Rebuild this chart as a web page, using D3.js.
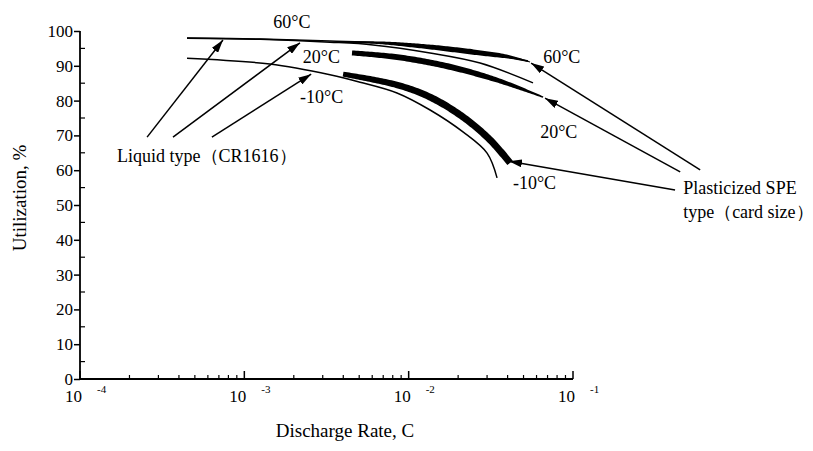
<!DOCTYPE html>
<html>
<head>
<meta charset="utf-8">
<script src="https://cdn.jsdelivr.net/npm/d3@7"></script>
<style>
body { margin: 0; background: #fff; }
svg { display: block; font-family: "Liberation Serif", "Times New Roman", serif; }
</style>
</head>
<body>
<svg width="813" height="451"></svg>
<script>
// discharge rate (C) vs utilization (%)
const liquid60 = [[4.48e-4, 98.0], [1.25e-3, 97.7], [3.32e-3, 97.1], [8.87e-3, 96.3], [1.79e-2, 95.1], [3.13e-2, 93.4], [5.33e-2, 91.4]];
const liquid20 = [[4.48e-4, 97.9], [1.25e-3, 97.6], [3.32e-3, 96.8], [6.07e-3, 96.0], [1.35e-2, 93.7], [2.72e-2, 90.8], [5.71e-2, 85.1]];
const liquidM10 = [[4.48e-4, 92.2], [1.43e-3, 90.5], [3.32e-3, 87.4], [5.06e-3, 85.3], [8.49e-3, 82.2], [1.35e-2, 77.3], [2.14e-2, 71.0], [3.00e-2, 64.9], [3.45e-2, 57.8]];
const spe60 = [[4.10e-3, 96.8], [6.70e-3, 96.6], [1.35e-2, 95.4], [2.72e-2, 93.7], [4.14e-2, 92.5], [5.48e-2, 91.1]];
const spe20 = [[4.52e-3, 93.7], [8.49e-3, 92.5], [1.71e-2, 89.9], [3.45e-2, 85.9], [6.58e-2, 81.0]];
const speM10 = [[3.99e-3, 87.6], [8.49e-3, 84.5], [1.35e-2, 81.0], [2.14e-2, 75.3], [3.13e-2, 68.7], [4.14e-2, 62.1]];

const xDecades = [1e-4, 1e-3, 1e-2, 1e-1];
const xExponents = ["-4", "-3", "-2", "-1"];
const yTicks = d3.range(0, 101, 10);

// annotation labels [rate, utilization, text]
const tempLabels = [
    [1.50e-3, 100.9, "60°C"], [2.27e-3, 90.8, "20°C"], [2.18e-3, 79.3, "-10°C"],
    [6.58e-2, 90.8, "60°C"], [6.31e-2, 69.3, "20°C"], [4.31e-2, 54.6, "-10°C"]
];
const groupLabels = [
    [1.68e-4, 62.4, "Liquid type（CR1616）"],
    [0.468, 53.2, "Plasticized SPE"],
    [0.468, 46.3, "type（card size）"]
];
// arrows [fromRate, fromUtil, toRate, toUtil]
const arrows = [
    [2.56e-4, 69.5, 7.41e-4, 97.4],
    [3.68e-4, 69.5, 2.18e-3, 96.6],
    [6.35e-4, 69.5, 2.55e-3, 87.6],
    [0.594, 60.1, 5.56e-2, 90.8],
    [0.449, 59.5, 6.76e-2, 80.7],
    [0.418, 54.3, 4.08e-2, 62.6]
];

const svg = d3.select("svg");
const x = d3.scaleLog().domain([1e-4, 1e-1]).range([80, 573]);
const y = d3.scaleLinear().domain([0, 100]).range([379, 31]);

svg.append("defs").append("marker")
    .attr("id", "ah")
    .attr("viewBox", "0 0 13 8")
    .attr("refX", 13).attr("refY", 4)
    .attr("markerWidth", 13).attr("markerHeight", 8)
    .attr("markerUnits", "userSpaceOnUse")
    .attr("orient", "auto")
  .append("path")
    .attr("d", "M0,0L13,4L0,8Z")
    .attr("fill", "#000");

// axes
svg.append("path")
    .attr("d", `M${x(1e-4)},${y(100)}V${y(0)}H${x(1e-1)}`)
    .attr("fill", "none").attr("stroke", "#000").attr("stroke-width", 1.8);

const yAxis = svg.append("g")
    .attr("transform", `translate(${x(1e-4)},0)`)
    .call(d3.axisLeft(y).tickValues(yTicks).tickSize(6).tickPadding(1));
yAxis.select(".domain").remove();
yAxis.selectAll("line").attr("stroke-width", 1.5);
yAxis.selectAll("text").attr("font-size", 17).attr("font-family", "Liberation Serif");

svg.append("g").selectAll("line")
    .data(d3.range(5, 100, 10))
    .join("line")
    .attr("x1", x(1e-4)).attr("x2", x(1e-4) + 5)
    .attr("y1", d => y(d)).attr("y2", d => y(d))
    .attr("stroke", "#000").attr("stroke-width", 1.2);

const minorX = [];
xDecades.slice(0, 3).forEach(d => d3.range(2, 10).forEach(m => minorX.push(d * m)));
svg.append("g").selectAll("line")
    .data(minorX)
    .join("line")
    .attr("x1", d => x(d)).attr("x2", d => x(d))
    .attr("y1", y(0)).attr("y2", y(0) - 4)
    .attr("stroke", "#000").attr("stroke-width", 1.2);
svg.append("g").selectAll("line")
    .data(xDecades)
    .join("line")
    .attr("x1", d => x(d)).attr("x2", d => x(d))
    .attr("y1", y(0)).attr("y2", y(0) - 8)
    .attr("stroke", "#000").attr("stroke-width", 1.5);

const xl = svg.append("g").selectAll("g").data(xDecades).join("g");
xl.append("text")
    .attr("x", d => x(d) + 2).attr("y", 402)
    .attr("text-anchor", "end").attr("font-size", 17)
    .text("10");
xl.append("text")
    .attr("x", d => x(d) + 17).attr("y", 393)
    .attr("font-size", 11)
    .text((d, i) => xExponents[i]);

svg.append("text")
    .attr("transform", "translate(26,198) rotate(-90)")
    .attr("text-anchor", "middle").attr("font-size", 19)
    .text("Utilization, %");
svg.append("text")
    .attr("x", 345).attr("y", 437)
    .attr("text-anchor", "middle").attr("font-size", 19)
    .text("Discharge Rate, C");

// curves
const curve = d3.line().x(d => x(d[0])).y(d => y(d[1])).curve(d3.curveCatmullRom.alpha(0.5));

[liquid60, liquid20, liquidM10].forEach(s => {
    svg.append("path")
        .attr("d", curve(s))
        .attr("fill", "none").attr("stroke", "#000").attr("stroke-width", 1.5);
});

// thick SPE curves drawn as ribbons with a varying width
function ribbon(data, widths) {
    const tmp = svg.append("path").attr("d", curve(data)).attr("fill", "none");
    const node = tmp.node(), L = node.getTotalLength(), n = 100;
    const wScale = d3.scaleLinear()
        .domain(widths.map((w, i) => i / (widths.length - 1)))
        .range(widths);
    const pts = d3.range(n + 1).map(i => node.getPointAtLength(L * i / n));
    tmp.remove();
    const left = [], right = [];
    pts.forEach((p, i) => {
        const a = pts[Math.max(i - 1, 0)], b = pts[Math.min(i + 1, n)];
        const dx = b.x - a.x, dy = b.y - a.y, len = Math.hypot(dx, dy) || 1;
        const nx = -dy / len, ny = dx / len, w = wScale(i / n) / 2;
        left.push([p.x + nx * w, p.y + ny * w]);
        right.push([p.x - nx * w, p.y - ny * w]);
    });
    return d3.line()(left.concat(right.reverse())) + "Z";
}

svg.append("path").attr("d", ribbon(spe60, [1.5, 2.5, 4, 5, 5.5, 4.5, 1])).attr("fill", "#000");
svg.append("path").attr("d", ribbon(spe20, [5, 5.5, 6, 6, 5.5, 4, 1.5])).attr("fill", "#000");
svg.append("path").attr("d", ribbon(speM10, [5, 6, 6.5, 7, 7, 7, 7])).attr("fill", "#000");

// arrows and labels
svg.append("g").selectAll("line")
    .data(arrows)
    .join("line")
    .attr("x1", d => x(d[0])).attr("y1", d => y(d[1]))
    .attr("x2", d => x(d[2])).attr("y2", d => y(d[3]))
    .attr("stroke", "#000").attr("stroke-width", 1.5)
    .attr("marker-end", "url(#ah)");

svg.append("g").selectAll("text")
    .data(tempLabels)
    .join("text")
    .attr("x", d => x(d[0])).attr("y", d => y(d[1]))
    .attr("font-size", 18)
    .text(d => d[2]);

svg.append("g").selectAll("text")
    .data(groupLabels)
    .join("text")
    .attr("x", d => x(d[0])).attr("y", d => y(d[1]))
    .attr("font-size", 18)
    .text(d => d[2]);
</script>
</body>
</html>
